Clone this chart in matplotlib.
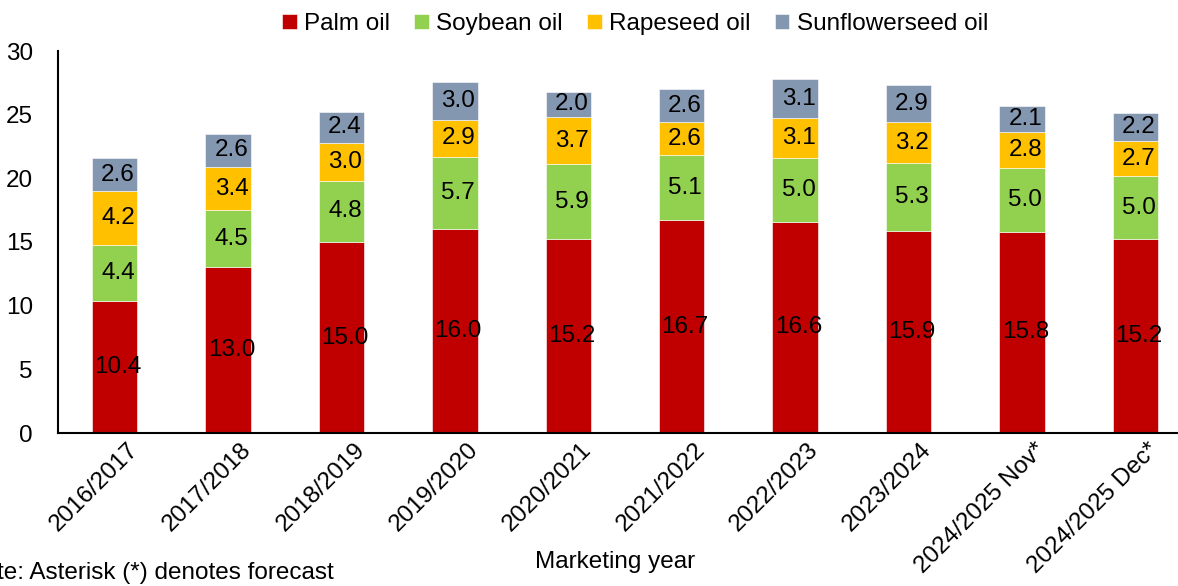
import numpy as np
import matplotlib
matplotlib.use("Agg")
import matplotlib.pyplot as plt
import matplotlib.transforms as mtransforms

plt.rcParams['font.family'] = ['Liberation Sans', 'DejaVu Sans']

years = ['2016/2017', '2017/2018', '2018/2019', '2019/2020', '2020/2021',
         '2021/2022', '2022/2023', '2023/2024', '2024/2025 Nov*', '2024/2025 Dec*']
palm = [10.4, 13.0, 15.0, 16.0, 15.2, 16.7, 16.6, 15.9, 15.8, 15.2]
soybean = [4.4, 4.5, 4.8, 5.7, 5.9, 5.1, 5.0, 5.3, 5.0, 5.0]
rapeseed = [4.2, 3.4, 3.0, 2.9, 3.7, 2.6, 3.1, 3.2, 2.8, 2.7]
sunflower = [2.6, 2.6, 2.4, 3.0, 2.0, 2.6, 3.1, 2.9, 2.1, 2.2]

series = [('Palm oil', palm, '#C00000'),
          ('Soybean oil', soybean, '#92D050'),
          ('Rapeseed oil', rapeseed, '#FFC000'),
          ('Sunflowerseed oil', sunflower, '#8497B0')]

fs = 17.5

fig = plt.figure(figsize=(11.78, 5.86), dpi=100)
ax = fig.add_axes([58/1178, 1 - 433/586, 1134/1178, 382/586])

x = np.arange(len(years))
bottom = np.zeros(len(years))
for name, vals, col in series:
    vals = np.array(vals)
    ax.bar(x, vals, 0.4, bottom=bottom, color=col, label=name,
           edgecolor='white', linewidth=0.4)
    for xi, b, v in zip(x, bottom, vals):
        ax.text(xi + 0.03, b + v / 2, f'{v:.1f}', ha='center', va='center',
                fontsize=fs, color='black')
    bottom += vals

ax.set_xlim(-0.5, len(years) - 0.5)
ax.set_ylim(0, 30)
ax.set_yticks([0, 5, 10, 15, 20, 25, 30])
ax.tick_params(axis='both', length=0, labelsize=fs)
ax.tick_params(axis='y', pad=18)
ax.tick_params(axis='x', pad=4)
ax.set_xticks(x)
ax.set_xticklabels(years, rotation=45, ha='right', rotation_mode='anchor')
shift = mtransforms.ScaledTranslation(12 / 100, 0, fig.dpi_scale_trans)
for lbl in ax.get_xticklabels():
    lbl.set_transform(lbl.get_transform() + shift)
for s in ['top', 'right']:
    ax.spines[s].set_visible(False)
ax.spines['left'].set_linewidth(1.5)
ax.spines['bottom'].set_linewidth(1.5)

ax.set_xlabel('Marketing year', fontsize=fs)
ax.xaxis.set_label_coords(557 / 1134, -118 / 382)

fig.legend(loc='upper center', bbox_to_anchor=(635 / 1178, 1.015), ncol=4,
           frameon=False, fontsize=fs, handlelength=0.6, handleheight=0.6,
           handletextpad=0.3, columnspacing=1.0)

fig.text(-34 / 1178, 1 - 562 / 586, 'Note: Asterisk (*) denotes forecast',
         fontsize=fs, va='top', ha='left')

fig.savefig('out.png', dpi=100)
